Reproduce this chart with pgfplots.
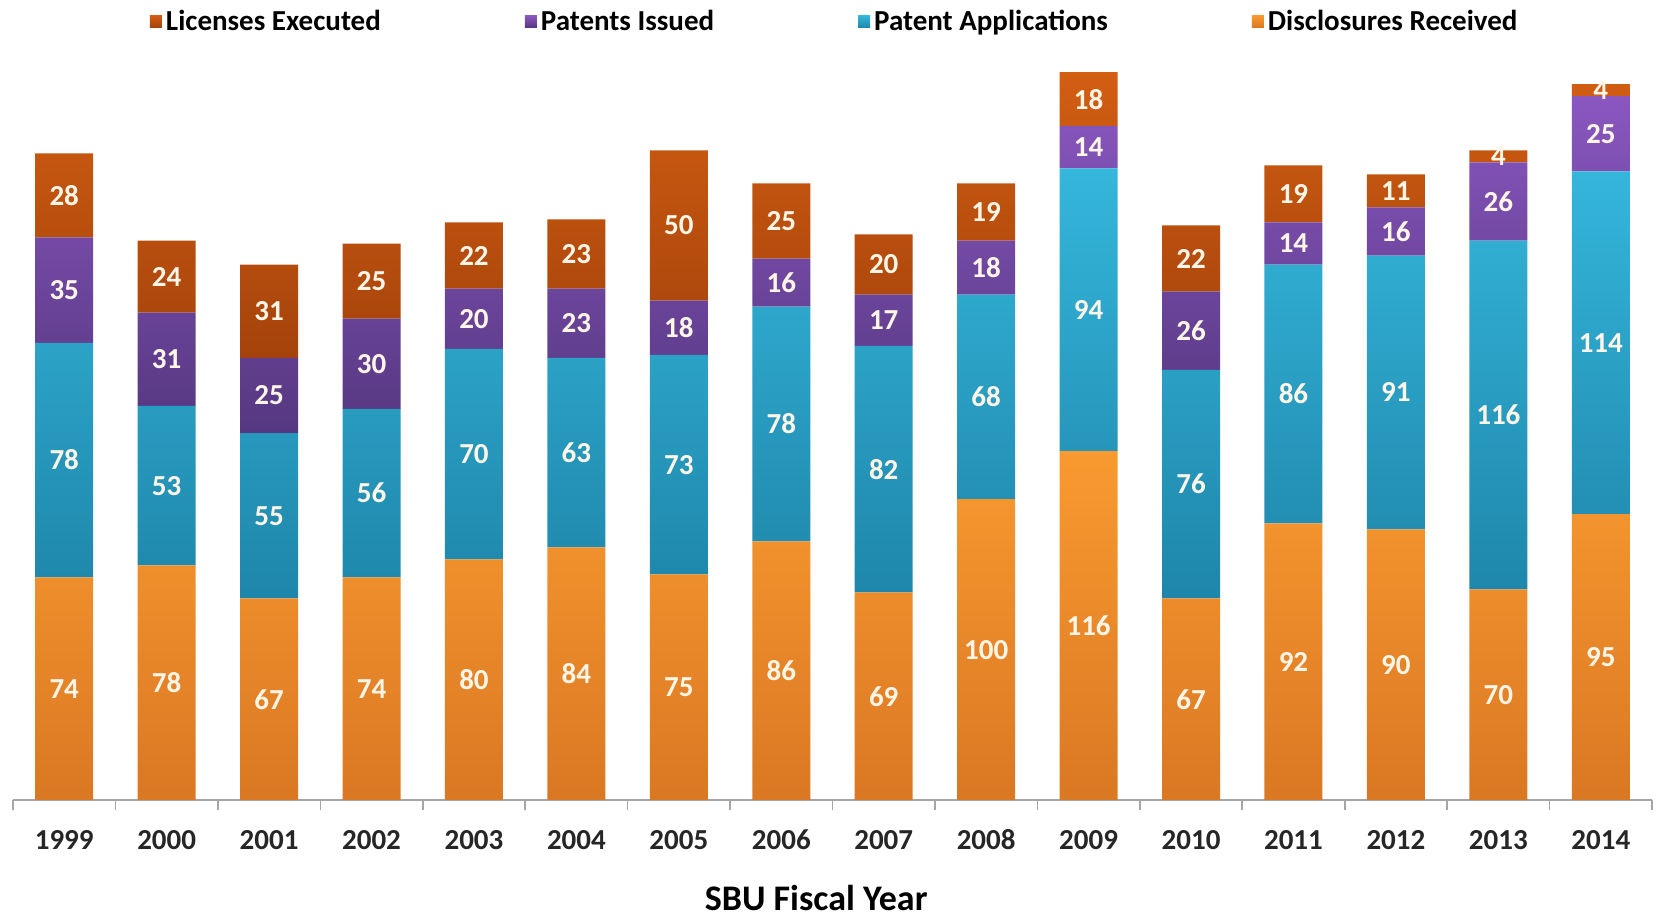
\documentclass[border=0pt]{standalone}
\usepackage{pgfplots}
\pgfplotsset{compat=1.18}
\usepackage{pgfplotstable}
\usepackage{fontspec}
\setmainfont{Carlito}

\definecolor{discT}{HTML}{F99A30}
\definecolor{discB}{HTML}{DA7823}
\definecolor{appT}{HTML}{35B6DB}
\definecolor{appB}{HTML}{1E86AA}
\definecolor{issT}{HTML}{8A57C0}
\definecolor{issB}{HTML}{553780}
\definecolor{licT}{HTML}{D25E12}
\definecolor{licB}{HTML}{A5430B}
\definecolor{labelc}{HTML}{FFF6E8}

\pgfplotstableread{
x year disc app iss lic
0 1999 74 78 35 28
1 2000 78 53 31 24
2 2001 67 55 25 31
3 2002 74 56 30 25
4 2003 80 70 20 22
5 2004 84 63 23 23
6 2005 75 73 18 50
7 2006 86 78 16 25
8 2007 69 82 17 20
9 2008 100 68 18 19
10 2009 116 94 14 18
11 2010 67 76 26 22
12 2011 92 86 14 19
13 2012 90 91 16 11
14 2013 70 116 26 4
15 2014 95 114 25 4
}\data

\begin{document}
\begin{tikzpicture}
\path[use as bounding box] (-6.5pt,-59.5pt) rectangle (822pt,400pt);
\begin{axis}[
  at={(0,0)}, anchor=south west,
  scale only axis, width=819.5pt, height=376pt,
  ymin=0, ymax=250, xmin=-0.5, xmax=15.5,
  ybar stacked, bar width=29pt,
  axis x line=bottom, axis y line=none,
  x axis line style={-, draw=gray!70, line width=0.8pt},
  xtick={0,...,15},
  xticklabels={1999,2000,2001,2002,2003,2004,2005,2006,2007,2008,2009,2010,2011,2012,2013,2014},
  major tick length=0pt,
  minor xtick={-0.5,0.5,...,15.5},
  minor tick length=5pt,
  tick align=outside,
  minor tick style={draw=gray!70, line width=0.8pt},
  xticklabel style={anchor=center, yshift=-20pt, font=\bfseries\fontsize{14.5}{15}\selectfont, text=black!85},
  xlabel={SBU Fiscal Year},
  xlabel style={at={(axis description cs:0.49,0)}, anchor=center, yshift=-49pt, font=\bfseries\fontsize{18}{19}\selectfont},
  /pgf/number format/assume math mode=true,
  nodes near coords,
  point meta=explicit,
  every node near coord/.append style={font=\bfseries\fontsize{14.5}{15}\selectfont, text=labelc, anchor=center},
  reverse legend,
  legend columns=4,
  legend style={at={(axis description cs:0.502,1.035)}, anchor=center, draw=none, fill=none,
    font=\bfseries\fontsize{14.5}{15}\selectfont,
    /tikz/every even column/.append style={column sep=70pt}},
  legend image code/.code={\fill[#1] (0pt,-3pt) rectangle (6pt,3pt);},
]
\addplot[draw=none, top color=discT, bottom color=discB] table[x=x, y=disc, meta=disc] {\data};
\addplot[draw=none, top color=appT, bottom color=appB] table[x=x, y=app, meta=app] {\data};
\addplot[draw=none, top color=issT, bottom color=issB] table[x=x, y=iss, meta=iss] {\data};
\addplot[draw=none, top color=licT, bottom color=licB] table[x=x, y=lic, meta=lic] {\data};
\legend{Disclosures Received, Patent Applications, Patents Issued, Licenses Executed}
\end{axis}
\end{tikzpicture}
\end{document}
